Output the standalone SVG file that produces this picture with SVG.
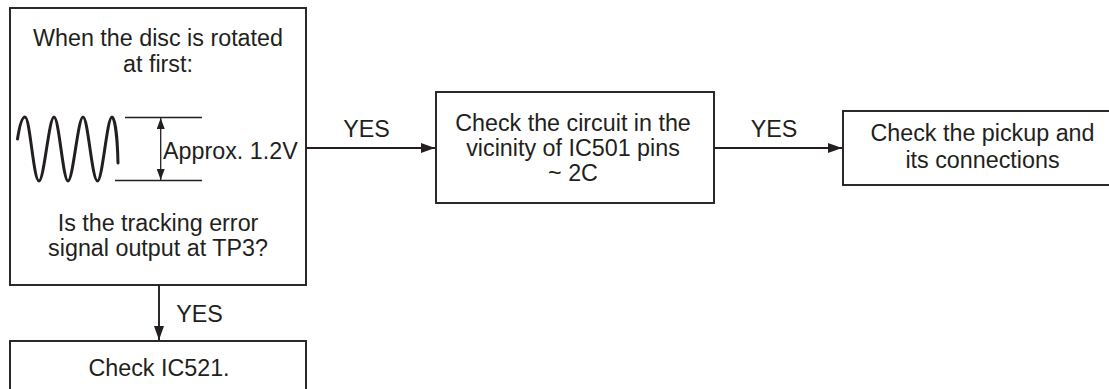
<svg xmlns="http://www.w3.org/2000/svg" width="1109" height="389" viewBox="0 0 1109 389">
<style>
.box{fill:#fff;stroke:#231f20;stroke-width:1.9}
.ln{fill:none;stroke:#231f20;stroke-width:1.9}
.thin{fill:none;stroke:#231f20;stroke-width:1.3}
.wave{fill:none;stroke:#231f20;stroke-width:3;stroke-linecap:round;stroke-linejoin:round}
text{font-family:"Liberation Sans",Arial,Helvetica,sans-serif;font-size:23.3px;fill:#231f20}
.c{text-anchor:middle}
</style>
<defs>
<marker id="ah" viewBox="0 0 14 10" refX="14" refY="5" markerWidth="14" markerHeight="10" markerUnits="userSpaceOnUse" orient="auto">
<path d="M0,0 L14,5 L0,10 Z" fill="#231f20"/>
</marker>
<marker id="ahs" viewBox="0 0 11 8" refX="11" refY="4" markerWidth="11" markerHeight="8" markerUnits="userSpaceOnUse" orient="auto">
<path d="M0,0 L11,4 L0,8 Z" fill="#231f20"/>
</marker>
</defs>
<rect width="1109" height="389" fill="#fff"/>
<g id="node-check-tracking">
<rect class="box" x="10" y="8" width="296" height="277"/>
<text class="c" x="158" y="45.5">When the disc is rotated</text>
<text class="c" x="158" y="71.5">at first:</text>
<path class="wave" d="M17.5,139 C19.5,126 22,117 25,117 C30,117 33.5,181 39,181 C44,181 49,117 54,117 C59,117 63,181 68,181 C73,181 78,117 83,117 C88,117 92,181 97.5,181 C102.5,181 107,117 112,117 C115,117 117.5,140 118,163"/>
<line class="thin" x1="125" y1="117.5" x2="202" y2="117.5"/>
<line class="thin" x1="115" y1="180.5" x2="202" y2="180.5"/>
<line class="thin" x1="160.7" y1="149" x2="160.7" y2="118" marker-end="url(#ahs)"/>
<line class="thin" x1="160.7" y1="149" x2="160.7" y2="180" marker-end="url(#ahs)"/>
<text x="163" y="158.5">Approx. 1.2V</text>
<text class="c" x="158" y="230.5">Is the tracking error</text>
<text class="c" x="158" y="255.5">signal output at TP3?</text>
</g>
<g id="node-check-circuit">
<rect class="box" x="436" y="92" width="278" height="111"/>
<text class="c" x="573" y="130.5">Check the circuit in the</text>
<text class="c" x="573" y="155.5">vicinity of IC501 pins</text>
<text class="c" x="573" y="181">~ 2C</text>
</g>
<g id="node-check-pickup">
<rect class="box" x="843" y="111" width="280" height="74"/>
<text class="c" x="982.5" y="141">Check the pickup and</text>
<text class="c" x="982.5" y="168">its connections</text>
</g>
<g id="node-check-ic521">
<rect class="box" x="10" y="341" width="296" height="60"/>
<text class="c" x="159" y="375.5">Check IC521.</text>
</g>
<g id="connectors">
<line class="ln" x1="306" y1="148" x2="435" y2="148" marker-end="url(#ah)"/>
<text class="c" x="366.5" y="136.5">YES</text>
<line class="ln" x1="714" y1="148" x2="842" y2="148" marker-end="url(#ah)"/>
<text class="c" x="774" y="136.5">YES</text>
<line class="ln" x1="159" y1="285" x2="159" y2="340" marker-end="url(#ah)"/>
<text class="c" x="199.5" y="321.5">YES</text>
</g>
</svg>
